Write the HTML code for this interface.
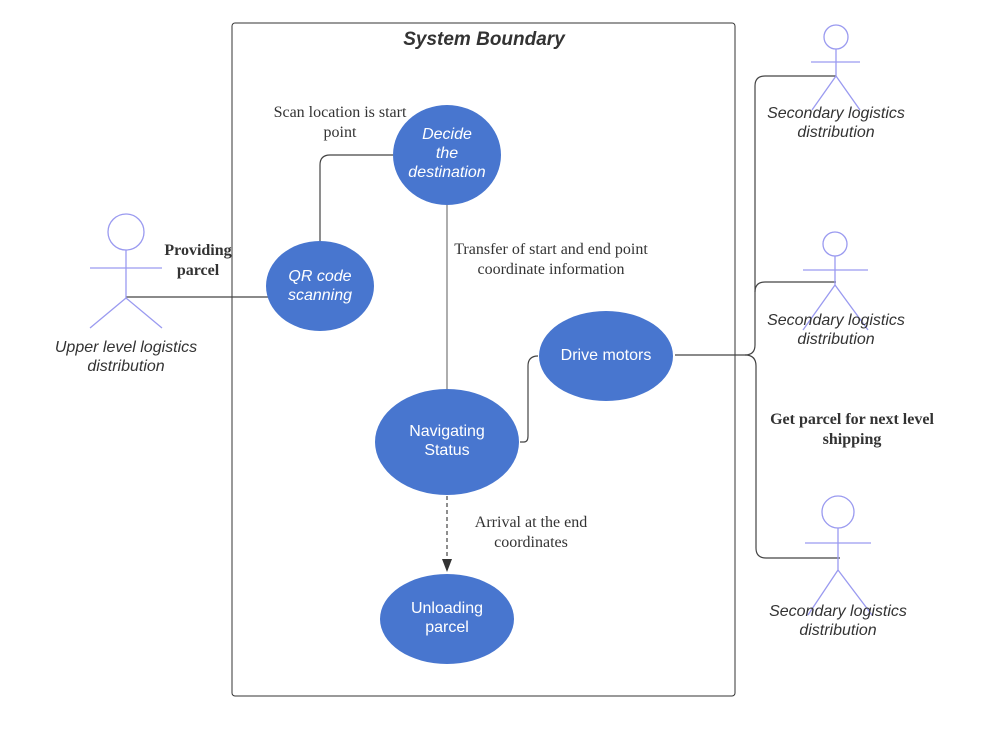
<!DOCTYPE html>
<html><head><style>body{margin:0;background:#fff}svg{display:block}</style></head><body>
<svg width="994" height="741" viewBox="0 0 994 741" xmlns="http://www.w3.org/2000/svg">
<rect x="232" y="23" width="503" height="673" rx="3" fill="none" stroke="#333" stroke-width="1"/>
<text x="484" y="45" text-anchor="middle" font-family="Liberation Sans, sans-serif" font-size="19" font-weight="bold" font-style="italic" fill="#333">System Boundary</text>
<g fill="none" stroke="#444" stroke-width="1.2">
<path d="M126,297 H270"/>
<path d="M320,242 V165 Q320,155 330,155 H394"/>
<path d="M447,205 V389" stroke="#777"/>
<path d="M520,442 H524 Q528,442 528,436 V366 Q528,356 538,356"/>
<path d="M675,355 H745 Q755,355 755,345 V86 Q755,76 765,76 H836"/>
<path d="M755,292 Q755,282 765,282 H836"/>
<path d="M745,355 Q756,355 756,366 V548 Q756,558 766,558 H840"/>
<path d="M447,496 V560" stroke-dasharray="4,3"/>
</g>
<path d="M442,559 L452,559 L447,572 Z" fill="#333"/>
<g fill="#4876CF">
<ellipse cx="447" cy="155" rx="54" ry="50"/>
<ellipse cx="320" cy="286" rx="54" ry="45"/>
<ellipse cx="606" cy="356" rx="67" ry="45"/>
<ellipse cx="447" cy="442" rx="72" ry="53"/>
<ellipse cx="447" cy="619" rx="67" ry="45"/>
</g>
<g font-family="Liberation Sans, sans-serif" font-size="16" fill="#fff" text-anchor="middle">
<text font-style="italic"><tspan x="447" y="139">Decide</tspan><tspan x="447" y="158">the</tspan><tspan x="447" y="177">destination</tspan></text>
<text font-style="italic"><tspan x="320" y="281">QR code</tspan><tspan x="320" y="300">scanning</tspan></text>
<text x="606" y="360">Drive motors</text>
<text><tspan x="447" y="436">Navigating</tspan><tspan x="447" y="455">Status</tspan></text>
<text><tspan x="447" y="613">Unloading</tspan><tspan x="447" y="632">parcel</tspan></text>
</g>
<g fill="none" stroke="#9a9af0" stroke-width="1.3">
<circle cx="126" cy="232" r="18"/><path d="M126,250 V298 M90,268 H162 M126,298 L90,328 M126,298 L162,328"/>
<circle cx="836" cy="37" r="12"/><path d="M836,49 V76 M811,62 H860 M836,76 L812,110 M836,76 L860,110"/>
<circle cx="835" cy="244" r="12"/><path d="M835,256 V285 M803,270 H868 M835,285 L803,330 M835,285 L868,330"/>
<circle cx="838" cy="512" r="16"/><path d="M838,528 V570 M805,543 H871 M838,570 L808,615 M838,570 L872,615"/>
</g>
<g font-family="Liberation Sans, sans-serif" font-size="16" font-style="italic" fill="#333" text-anchor="middle">
<text><tspan x="126" y="352">Upper level logistics</tspan><tspan x="126" y="371">distribution</tspan></text>
<text><tspan x="836" y="118">Secondary logistics</tspan><tspan x="836" y="137">distribution</tspan></text>
<text><tspan x="836" y="325">Secondary logistics</tspan><tspan x="836" y="344">distribution</tspan></text>
<text><tspan x="838" y="616">Secondary logistics</tspan><tspan x="838" y="635">distribution</tspan></text>
</g>
<g font-family="Liberation Serif, serif" font-size="16" fill="#333" text-anchor="middle">
<text><tspan x="340" y="117">Scan location is start</tspan><tspan x="340" y="137">point</tspan></text>
<text><tspan x="551" y="254">Transfer of start and end point</tspan><tspan x="551" y="274">coordinate information</tspan></text>
<text><tspan x="531" y="527">Arrival at the end</tspan><tspan x="531" y="547">coordinates</tspan></text>
<text font-weight="bold"><tspan x="198" y="255">Providing</tspan><tspan x="198" y="275">parcel</tspan></text>
<text font-weight="bold"><tspan x="852" y="424">Get parcel for next level</tspan><tspan x="852" y="444">shipping</tspan></text>
</g>
</svg>
</body></html>
